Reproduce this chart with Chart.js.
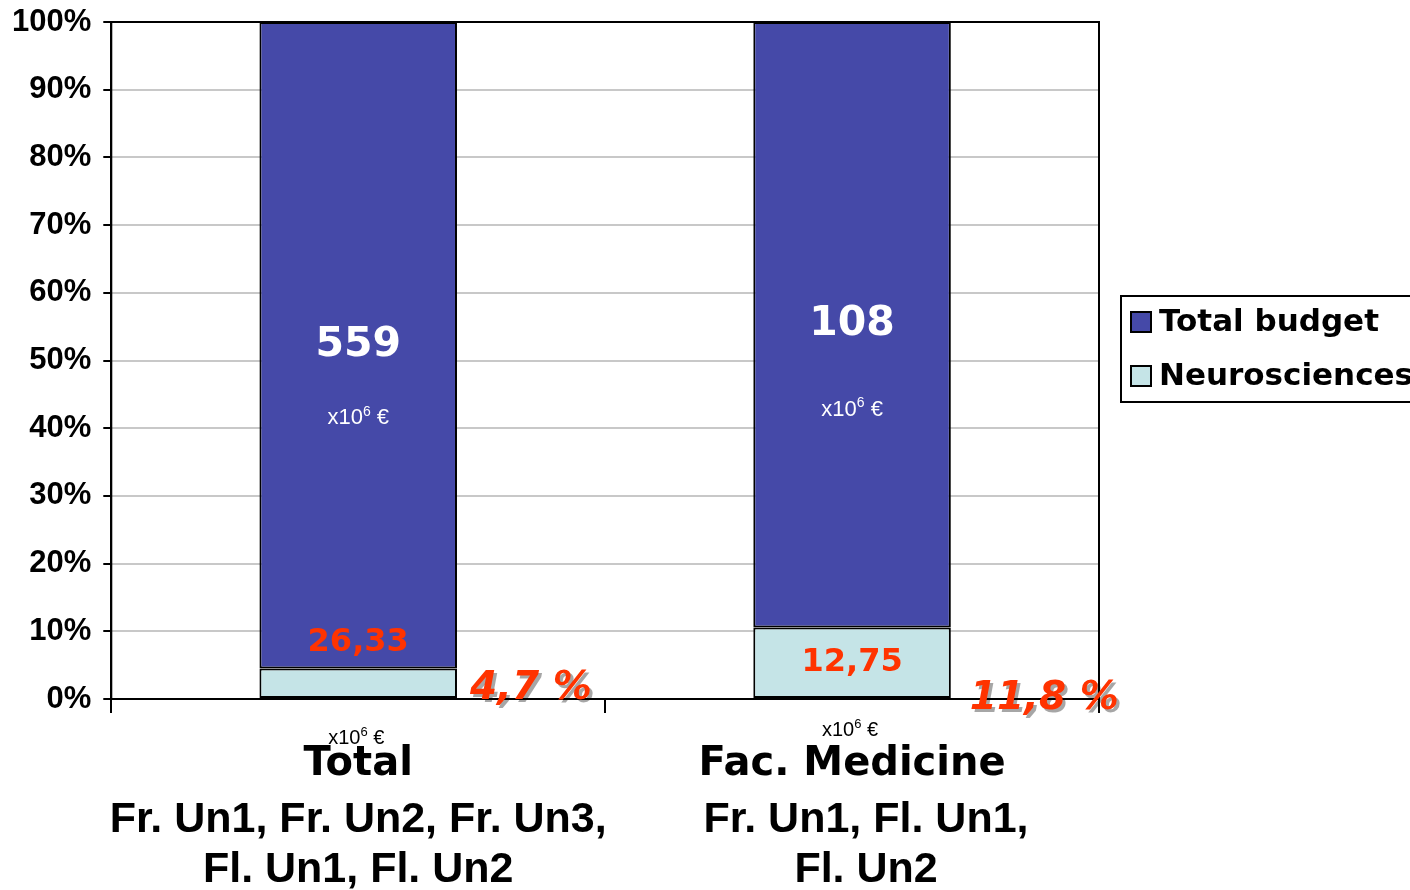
<!DOCTYPE html>
<html>
<head>
<meta charset="utf-8">
<script src="https://cdn.jsdelivr.net/npm/chart.js@4.4.0/dist/chart.umd.min.js"></script>
<style>
  html, body { margin: 0; padding: 0; background: #fff; }
</style>
</head>
<body>
<canvas id="budget_chart" width="1410" height="890"></canvas>
<script>
// data (x10^6 €)
const categories = ["Total", "Fac. Medicine"];
const categorySubLines = [
  ["Fr. Un1, Fr. Un2, Fr. Un3,", "Fl. Un1, Fl. Un2"],
  ["Fr. Un1, Fl. Un1,", "Fl. Un2"]
];
const seriesNames = ["Neurosciences", "Total budget"];
const neuroValues = [26.33, 12.75];
const totalValues = [559, 108];
const yTickValues = [0, 10, 20, 30, 40, 50, 60, 70, 80, 90, 100];

const barColors = ["#C5E4E7", "#4549A8"];
const red = "#FF3300";

// 100% stacked: each column normalised to its own sum
const neuroPct = neuroValues.map((v, i) => v / (v + totalValues[i]) * 100);
const totalPct = totalValues.map((v, i) => v / (neuroValues[i] + v) * 100);
const shareLabels = neuroValues.map((v, i) => (v / totalValues[i] * 100).toFixed(1).replace(".", ",") + " %");
const fmt = v => String(v).replace(".", ",");

function unitText(ctx, x, y, size, color) {
  // "x10^6 €" with a raised 6
  ctx.save();
  ctx.fillStyle = color;
  ctx.textBaseline = "middle";
  ctx.textAlign = "left";
  const big = size + "px 'Liberation Sans', Arial";
  const small = Math.round(size * 0.65) + "px 'Liberation Sans', Arial";
  ctx.font = big;
  const w1 = ctx.measureText("x10").width;
  const w3 = ctx.measureText(" €").width;
  ctx.font = small;
  const w2 = ctx.measureText("6").width;
  let sx = x - (w1 + w2 + w3) / 2;
  ctx.font = big;
  ctx.fillText("x10", sx, y);
  ctx.font = small;
  ctx.fillText("6", sx + w1, y - size * 0.3);
  ctx.font = big;
  ctx.fillText(" €", sx + w1 + w2, y);
  ctx.restore();
}

const framePlugin = {
  id: "frame",
  afterDraw(chart) {
    const ctx = chart.ctx;
    const a = chart.chartArea;
    ctx.save();
    ctx.strokeStyle = "#000";
    ctx.lineWidth = 2;
    ctx.strokeRect(a.left, a.top, a.right - a.left, a.bottom - a.top);
    ctx.restore();
  }
};

const labelsPlugin = {
  id: "barLabels",
  afterDraw(chart) {
    const ctx = chart.ctx;
    const neuroBars = chart.getDatasetMeta(0).data;
    const totalBars = chart.getDatasetMeta(1).data;
    const xScale = chart.scales.x;
    const unitOffset = [73, 85];

    ctx.save();
    ctx.textAlign = "center";
    ctx.textBaseline = "middle";
    for (let i = 0; i < categories.length; i++) {
      const nb = neuroBars[i];
      const tb = totalBars[i];
      const segMid = (tb.y + tb.base) / 2;

      // big white total
      ctx.fillStyle = "#fff";
      ctx.font = "bold 41px 'DejaVu Sans'";
      ctx.fillText(fmt(totalValues[i]), tb.x, segMid);
      unitText(ctx, tb.x, segMid + unitOffset[i], 22, "#fff");

      // red neuro value
      ctx.fillStyle = red;
      ctx.font = "bold 32px 'DejaVu Sans'";
      const nh = nb.base - nb.y;
      if (nh > 50) {
        ctx.fillText(fmt(neuroValues[i]), nb.x, (nb.y + nb.base) / 2);
      } else {
        ctx.fillText(fmt(neuroValues[i]), nb.x, nb.y - 26);
      }

      // share %, italic with shadow
      ctx.save();
      ctx.textAlign = "left";
      ctx.font = "italic bold 39px 'DejaVu Sans'";
      ctx.shadowColor = "rgba(0,0,0,0.35)";
      ctx.shadowOffsetX = 3;
      ctx.shadowOffsetY = 3;
      ctx.fillStyle = red;
      ctx.fillText(shareLabels[i], nb.x + nb.width / 2 + 13 + i * 6, nb.base - 9 + i * 10);
      ctx.restore();

      // category labels under the axis
      const cx = xScale.getPixelForValue(i);
      unitText(ctx, cx - 2, 738 - i * 8, 20, "#000");
      ctx.fillStyle = "#000";
      ctx.font = "bold 40px 'DejaVu Sans'";
      ctx.fillText(categories[i], cx, 765);
      ctx.font = "bold 43px 'Liberation Sans', Arial";
      categorySubLines[i].forEach((line, k) => {
        ctx.fillText(line, cx + i * 14, 820 + k * 50);
      });
    }
    ctx.restore();
  }
};

const legendPlugin = {
  id: "sideLegend",
  afterDraw(chart) {
    const ctx = chart.ctx;
    ctx.save();
    ctx.strokeStyle = "#000";
    ctx.lineWidth = 2;
    ctx.strokeRect(1121, 296, 300, 106);
    const order = [1, 0];
    ctx.font = "bold 31px 'DejaVu Sans'";
    ctx.textBaseline = "middle";
    ctx.textAlign = "left";
    order.forEach((d, k) => {
      const y = 322 + k * 54;
      ctx.fillStyle = chart.data.datasets[d].backgroundColor;
      ctx.fillRect(1131, y - 10, 20, 20);
      ctx.strokeRect(1131, y - 10, 20, 20);
      ctx.fillStyle = "#000";
      ctx.fillText(chart.data.datasets[d].label, 1159, y + 1);
    });
    ctx.restore();
  }
};

new Chart("budget_chart", {
  type: "bar",
  data: {
    labels: categories,
    datasets: [
      {
        label: seriesNames[0],
        data: neuroPct,
        backgroundColor: barColors[0],
        borderColor: "#000",
        borderWidth: 2,
        borderSkipped: false
      },
      {
        label: seriesNames[1],
        data: totalPct,
        backgroundColor: barColors[1],
        borderColor: "#000",
        borderWidth: 2,
        borderSkipped: false
      }
    ]
  },
  options: {
    responsive: false,
    animation: false,
    devicePixelRatio: 1,
    layout: {
      padding: { left: 0, top: 22, right: 311, bottom: 177 }
    },
    datasets: {
      bar: { categoryPercentage: 1, barPercentage: 0.4 }
    },
    plugins: {
      legend: { display: false },
      title: { display: false },
      tooltip: { enabled: false }
    },
    scales: {
      x: {
        stacked: true,
        grid: {
          drawOnChartArea: false,
          tickColor: "#000",
          tickLength: 14,
          lineWidth: 2
        },
        border: { color: "#000", width: 2 },
        ticks: { display: false }
      },
      y: {
        stacked: true,
        min: 0,
        max: 100,
        afterBuildTicks: axis => { axis.ticks = yTickValues.map(v => ({ value: v })); },
        grid: {
          color: "#C8C8C8",
          lineWidth: 2,
          tickColor: "#000",
          tickLength: 8
        },
        border: { color: "#000", width: 2 },
        ticks: {
          color: "#000",
          padding: 12,
          font: { family: "'Liberation Sans', Arial", size: 31, weight: "bold", lineHeight: 0.5 },
          callback: v => v + "%"
        }
      }
    }
  },
  plugins: [framePlugin, labelsPlugin, legendPlugin]
});
</script>
</body>
</html>
